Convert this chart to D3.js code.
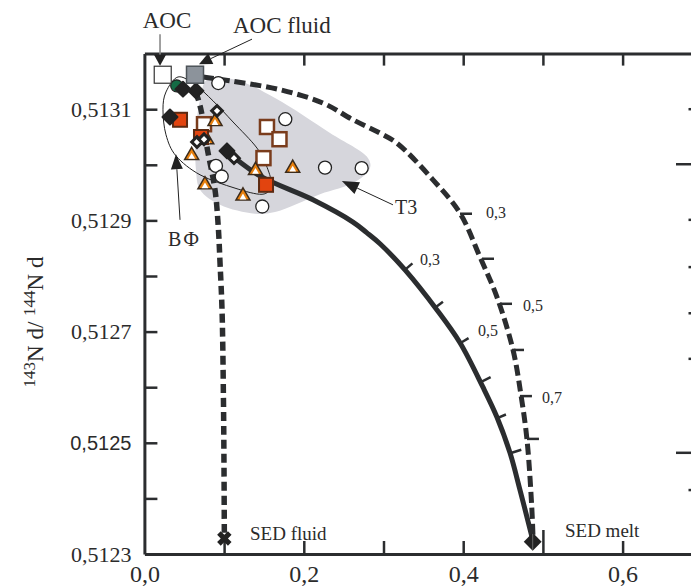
<!DOCTYPE html>
<html>
<head>
<meta charset="utf-8">
<script src="https://cdn.jsdelivr.net/npm/d3@7"></script>
<style>
  body { margin: 0; background: #fff; }
  svg { display: block; }
  .serif { font-family: "Liberation Serif", "Times New Roman", serif; fill: #2b2b2b; }
</style>
</head>
<body>
<div id="chart"></div>
<script>
// axis ticks
const xTickValues = [0, 0.1, 0.2, 0.3, 0.4, 0.5, 0.6];
const xLabelValues = [0, 0.2, 0.4, 0.6];
const yTickValues = [0.5123, 0.5124, 0.5125, 0.5126, 0.5127, 0.5128, 0.5129, 0.5130, 0.5131];
const yLabelValues = [0.5123, 0.5125, 0.5127, 0.5129, 0.5131];
const rightTickMajor = [0.513001, 0.512482];
const rightTickMinor = [0.5131, 0.512901, 0.512816, 0.512733, 0.512651, 0.512415];

// end-members
const aoc = [[0.023, 0.513162]];
const aocFluid = [[0.0635, 0.513162]];
const sedFluid = [[0.1003, 0.512328]];
const sedMelt = [[0.4872, 0.512322]];

// samples
const greenCircles = [[0.0405, 0.513142]];
const blackDiamonds = [[0.0484, 0.513136], [0.0647, 0.513133], [0.0321, 0.513086], [0.1036, 0.513025]];
const openDiamonds = [[0.0911, 0.513097], [0.066, 0.513041], [0.0748, 0.513046], [0.1124, 0.513012]];
const redSquares = [[0.0447, 0.513081], [0.1526, 0.512964], [0.071, 0.51305]];
const openSquares = [[0.0748, 0.513073], [0.1538, 0.513068], [0.1695, 0.513046], [0.1494, 0.513012]];
const triangles = [[0.0886, 0.513078], [0.0782, 0.513045], [0.0593, 0.513017], [0.1394, 0.51299],
                   [0.1861, 0.512994], [0.076, 0.512964], [0.1237, 0.512944]];
const whiteCircles = [[0.0927, 0.513147], [0.1768, 0.513082], [0.0898, 0.512998], [0.097, 0.512979],
                      [0.2266, 0.512995], [0.2726, 0.512994], [0.1479, 0.512925]];

// T3 field and ВФ outline
const t3Field = [[0.0698, 0.513117], [0.0785, 0.513153], [0.1137, 0.513153], [0.1639, 0.51312],
                 [0.2329, 0.513057], [0.2806, 0.513012], [0.283, 0.512994], [0.2642, 0.512969],
                 [0.2203, 0.512947], [0.1639, 0.512915], [0.1388, 0.512912], [0.0949, 0.512928],
                 [0.0698, 0.512955], [0.0647, 0.512991], [0.0647, 0.513063]];
const vfOutline = [[0.0422, 0.513158], [0.0635, 0.513144], [0.0861, 0.513115], [0.1112, 0.513077],
                   [0.1413, 0.51303], [0.1551, 0.512991], [0.1589, 0.512962], [0.1476, 0.512947],
                   [0.1137, 0.512958], [0.0698, 0.512982], [0.0397, 0.513016], [0.0271, 0.513054],
                   [0.0233, 0.513099], [0.0271, 0.513131]];

// mixing curves
const meltCurve = [[0.1011, 0.513027], [0.145, 0.51298], [0.2115, 0.512937], [0.2617, 0.512897],
                   [0.2789, 0.512878], [0.2956, 0.512858], [0.327, 0.512811], [0.3671, 0.512739],
                   [0.396, 0.51268], [0.4248, 0.5126], [0.4424, 0.512546], [0.4587, 0.512482],
                   [0.4713, 0.512415], [0.4863, 0.512331]];
const meltTicks = [[0.3268, 0.512811], [0.3646, 0.512743], [0.396, 0.512679], [0.4232, 0.51261],
                   [0.442, 0.512544], [0.4609, 0.512482]];
const aocMeltCurve = [[0.0734, 0.513158], [0.1074, 0.513151], [0.1701, 0.513135], [0.2241, 0.513111],
                      [0.2617, 0.513081], [0.2956, 0.513057], [0.3169, 0.513039], [0.3621, 0.512973],
                      [0.396, 0.512913], [0.4211, 0.512834], [0.4424, 0.512762], [0.4625, 0.512667],
                      [0.4725, 0.512586], [0.4801, 0.512505], [0.486, 0.512385], [0.4876, 0.512331]];
const aocMeltTicks = [[0.396, 0.512912], [0.4236, 0.512831], [0.4462, 0.51275], [0.4612, 0.512667],
                      [0.4712, 0.512584], [0.48, 0.512507]];
const fluidCurve = [[0.0647, 0.513131], [0.071, 0.513099], [0.0785, 0.513032], [0.0886, 0.512955],
                    [0.0927, 0.512888], [0.0949, 0.512823], [0.0974, 0.512739], [0.0992, 0.512577],
                    [0.0999, 0.512451], [0.1003, 0.512334]];

// text annotations
const curveLabels = [
  { text: "0,3", x: 0.3458, y: 0.51282 },
  { text: "0,5", x: 0.4186, y: 0.512692 },
  { text: "0,3", x: 0.4286, y: 0.512904 },
  { text: "0,5", x: 0.4749, y: 0.512737 },
  { text: "0,7", x: 0.4988, y: 0.512572 }
];

const width = 691, height = 587;
const ink = "#2b2d2f";

const x = d3.scaleLinear().domain([0, 0.7]).range([144.4, 702.3]);
const y = d3.scaleLinear().domain([0.5123, 0.5132]).range([554, 53.6]);

const xFmt = d => d3.format(".1f")(d).replace(".", ",");
const yFmt = d => d3.format(".4f")(d).replace(".", ",");

const svg = d3.select("#chart").append("svg")
  .attr("width", width)
  .attr("height", height);

const line = d3.line().x(d => x(d[0])).y(d => y(d[1]));

// T3 field
svg.append("path")
  .attr("d", line.curve(d3.curveCatmullRomClosed)(t3Field))
  .attr("fill", "#d6d6dc");

// ВФ outline
svg.append("path")
  .attr("d", line.curve(d3.curveCardinalClosed)(vfOutline))
  .attr("fill", "none")
  .attr("stroke", "#222")
  .attr("stroke-width", 1);

// dashed mixing curves
svg.append("path")
  .attr("d", line.curve(d3.curveCatmullRom)(aocMeltCurve))
  .attr("fill", "none")
  .attr("stroke", ink)
  .attr("stroke-width", 5)
  .attr("stroke-dasharray", "11,5");

svg.append("path")
  .attr("d", line.curve(d3.curveCatmullRom)(fluidCurve))
  .attr("fill", "none")
  .attr("stroke", ink)
  .attr("stroke-width", 5.5)
  .attr("stroke-dasharray", "9,5");

// solid curve (T3 - SED melt)
svg.append("path")
  .attr("d", line.curve(d3.curveCatmullRom)(meltCurve))
  .attr("fill", "none")
  .attr("stroke", ink)
  .attr("stroke-width", 5)
  .attr("stroke-linecap", "round");

// ticks on curves
const meltPx = meltCurve.map(d => [x(d[0]), y(d[1])]);
function normalAt(p) {
  let best = 0, bd = Infinity;
  meltPx.forEach((q, i) => {
    const dd = (q[0] - p[0]) ** 2 + (q[1] - p[1]) ** 2;
    if (dd < bd) { bd = dd; best = i; }
  });
  const a = meltPx[Math.max(best - 1, 0)], b = meltPx[Math.min(best + 1, meltPx.length - 1)];
  const tx = b[0] - a[0], ty = b[1] - a[1], len = Math.hypot(tx, ty);
  return [ty / len, -tx / len];
}
svg.selectAll(".melt-tick")
  .data(meltTicks)
  .enter()
  .append("line")
  .attr("x1", d => x(d[0]))
  .attr("y1", d => y(d[1]))
  .attr("x2", d => x(d[0]) + 10 * normalAt([x(d[0]), y(d[1])])[0])
  .attr("y2", d => y(d[1]) + 10 * normalAt([x(d[0]), y(d[1])])[1])
  .attr("stroke", ink)
  .attr("stroke-width", 2.5);

svg.selectAll(".aoc-tick")
  .data(aocMeltTicks)
  .enter()
  .append("line")
  .attr("x1", d => x(d[0]))
  .attr("y1", d => y(d[1]))
  .attr("x2", d => x(d[0]) + 12)
  .attr("y2", d => y(d[1]))
  .attr("stroke", ink)
  .attr("stroke-width", 2.5);

svg.selectAll(".curve-label")
  .data(curveLabels)
  .enter()
  .append("text")
  .attr("class", "serif")
  .attr("x", d => x(d.x))
  .attr("y", d => y(d.y))
  .style("font-size", "16px")
  .text(d => d.text);

// axes
const bottomAxis = svg.append("g")
  .attr("transform", `translate(0,${y(0.5123)})`)
  .call(d3.axisBottom(x).tickValues(xTickValues).tickSize(-13).tickSizeOuter(0).tickPadding(11)
    .tickFormat(d => xLabelValues.includes(d) ? xFmt(d) : ""));
bottomAxis.selectAll(".tick line").filter(d => d === 0).remove();
bottomAxis.selectAll(".tick line").filter(d => d === 0.5).attr("y2", -24);

const topAxis = svg.append("g")
  .attr("transform", `translate(0,${y(0.5132)})`)
  .call(d3.axisTop(x).tickValues(xTickValues.slice(1)).tickSize(-12).tickSizeOuter(0).tickFormat(""));

const leftAxis = svg.append("g")
  .attr("transform", `translate(${x(0)},0)`)
  .call(d3.axisLeft(y).tickValues(yTickValues).tickSize(-13).tickSizeOuter(0).tickPadding(13)
    .tickFormat(d => yLabelValues.includes(d) ? yFmt(d) : ""));
leftAxis.selectAll(".tick line").filter(d => d === 0.5123).remove();

[bottomAxis, topAxis, leftAxis].forEach(g => {
  g.select(".domain").attr("stroke", ink).attr("stroke-width", 3);
  g.selectAll(".tick line").attr("stroke", ink).attr("stroke-width", 2.5);
  g.selectAll(".tick text")
    .attr("fill", "#2b2b2b")
    .style("font-family", '"Liberation Serif", "Times New Roman", serif');
});
bottomAxis.selectAll(".tick text").style("font-size", "24px");
leftAxis.selectAll(".tick text").style("font-size", "22px");
leftAxis.selectAll(".tick text").filter(d => d === 0.5125)
  .style("font-family", '"Liberation Sans", Arial, sans-serif')
  .style("font-size", "20px");

// right-hand axis, cut by the frame
svg.selectAll(".r-major")
  .data(rightTickMajor)
  .enter()
  .append("line")
  .attr("x1", width - 15).attr("x2", width)
  .attr("y1", d => y(d)).attr("y2", d => y(d))
  .attr("stroke", ink).attr("stroke-width", 2.5);
svg.selectAll(".r-minor")
  .data(rightTickMinor)
  .enter()
  .append("line")
  .attr("x1", width - 2.5).attr("x2", width)
  .attr("y1", d => y(d)).attr("y2", d => y(d))
  .attr("stroke", ink).attr("stroke-width", 2.5);

// markers
const sym = (type, size) => d3.symbol().type(type).size(size)();

svg.selectAll(".wcirc")
  .data(whiteCircles)
  .enter()
  .append("circle")
  .attr("cx", d => x(d[0])).attr("cy", d => y(d[1])).attr("r", 6.5)
  .attr("fill", "#fff").attr("stroke", "#222").attr("stroke-width", 1.3);

svg.selectAll(".osq")
  .data(openSquares)
  .enter()
  .append("rect")
  .attr("x", d => x(d[0]) - 7).attr("y", d => y(d[1]) - 7)
  .attr("width", 14).attr("height", 14)
  .attr("fill", "#fff").attr("stroke", "#7a3c1c").attr("stroke-width", 2.5);

const tri = svg.selectAll(".tri")
  .data(triangles)
  .enter()
  .append("g")
  .attr("transform", d => `translate(${x(d[0])},${y(d[1])})`);
tri.append("path").attr("d", sym(d3.symbolTriangle, 85))
  .attr("fill", "#e8800e").attr("stroke", "#3b2b1b").attr("stroke-width", 1.5);
tri.append("path").attr("d", sym(d3.symbolTriangle, 20))
  .attr("transform", "translate(0,1.5)")
  .attr("fill", "#fff");

svg.selectAll(".rsq")
  .data(redSquares)
  .enter()
  .append("rect")
  .attr("x", d => x(d[0]) - 7).attr("y", d => y(d[1]) - 7)
  .attr("width", 14).attr("height", 14)
  .attr("fill", "#e2440f").attr("stroke", "#5c2a12").attr("stroke-width", 2);

svg.selectAll(".green")
  .data(greenCircles)
  .enter()
  .append("circle")
  .attr("cx", d => x(d[0])).attr("cy", d => y(d[1])).attr("r", 6)
  .attr("fill", "#146b45").attr("stroke", "#222").attr("stroke-width", 1.2);

svg.selectAll(".bdia")
  .data(blackDiamonds)
  .enter()
  .append("path")
  .attr("d", sym(d3.symbolSquare, 112))
  .attr("transform", d => `translate(${x(d[0])},${y(d[1])}) rotate(45)`)
  .attr("fill", "#222").attr("stroke", "#222").attr("stroke-width", 2).attr("stroke-linejoin", "round");

svg.selectAll(".odia")
  .data(openDiamonds)
  .enter()
  .append("path")
  .attr("d", sym(d3.symbolSquare, 56))
  .attr("transform", d => `translate(${x(d[0])},${y(d[1])}) rotate(45)`)
  .attr("fill", "#fff").attr("stroke", "#222").attr("stroke-width", 3);

svg.selectAll(".aoc")
  .data(aoc)
  .enter()
  .append("rect")
  .attr("x", d => x(d[0]) - 8.5).attr("y", d => y(d[1]) - 8.5)
  .attr("width", 17).attr("height", 17)
  .attr("fill", "#fff").attr("stroke", "#333").attr("stroke-width", 1.2);

svg.selectAll(".aocf")
  .data(aocFluid)
  .enter()
  .append("rect")
  .attr("x", d => x(d[0]) - 8.5).attr("y", d => y(d[1]) - 8.5)
  .attr("width", 17).attr("height", 17)
  .attr("fill", "#8c939b").attr("stroke", "#4d5358").attr("stroke-width", 1.5);

svg.selectAll(".sedf")
  .data(sedFluid)
  .enter()
  .append("path")
  .attr("d", sym(d3.symbolCross, 130))
  .attr("transform", d => `translate(${x(d[0])},${y(d[1])}) rotate(45)`)
  .attr("fill", "#222");

const melt = svg.selectAll(".sedm")
  .data(sedMelt)
  .enter()
  .append("g")
  .attr("transform", d => `translate(${x(d[0])},${y(d[1])})`);
melt.append("path")
  .attr("d", sym(d3.symbolSquare, 160))
  .attr("transform", "rotate(45)")
  .attr("fill", "#222");
melt.append("line")
  .attr("x1", 0).attr("x2", 0).attr("y1", -8).attr("y2", 8)
  .attr("stroke", "#777").attr("stroke-width", 0.8);

// arrows with labels
function arrow(from, to, headLen, headW, color) {
  const x1 = x(from[0]), y1 = y(from[1]), x2 = x(to[0]), y2 = y(to[1]);
  const len = Math.hypot(x2 - x1, y2 - y1);
  const ux = (x2 - x1) / len, uy = (y2 - y1) / len;
  const bx = x2 - ux * headLen, by = y2 - uy * headLen;
  svg.append("line")
    .attr("x1", x1).attr("y1", y1).attr("x2", bx).attr("y2", by)
    .attr("stroke", color).attr("stroke-width", color === "#222" ? 1 : 1.6);
  svg.append("path")
    .attr("d", `M${x2},${y2}L${bx - uy * headW / 2},${by + ux * headW / 2}L${bx + uy * headW / 2},${by - ux * headW / 2}Z`)
    .attr("fill", "#222");
}

arrow([0.0196, 0.513235], [0.0196, 0.513178], 11, 12, "#8a8a8a");
arrow([0.135, 0.513226], [0.0685, 0.513181], 13, 12, "#222");
arrow([0.3119, 0.512928], [0.2477, 0.512971], 17, 13, "#222");
arrow([0.0447, 0.512901], [0.0396, 0.513019], 15, 12, "#222");

const labels = [
  { text: "AOC", x: 0.0284, y: 0.513246, anchor: "middle", size: 23 },
  { text: "AOC fluid", x: 0.1111, y: 0.513237, anchor: "start", size: 23 },
  { text: "T3", x: 0.3144, y: 0.512912, anchor: "start", size: 20 },
  { text: "ВФ", x: 0.0296, y: 0.512854, anchor: "start", size: 20 },
  { text: "SED fluid", x: 0.1325, y: 0.512325, anchor: "start", size: 19 },
  { text: "SED melt", x: 0.5277, y: 0.512331, anchor: "start", size: 19 }
];
svg.selectAll(".lab")
  .data(labels)
  .enter()
  .append("text")
  .attr("class", "serif")
  .attr("x", d => x(d.x))
  .attr("y", d => y(d.y))
  .attr("text-anchor", d => d.anchor)
  .style("font-size", d => d.size + "px")
  .style("letter-spacing", d => d.text === "ВФ" ? "2px" : null)
  .text(d => d.text);

// y title 143Nd/144Nd
const title = svg.append("text")
  .attr("class", "serif")
  .attr("transform", "translate(43,322) rotate(-90)")
  .attr("text-anchor", "middle")
  .style("font-size", "23px");
title.append("tspan").attr("dy", -8).style("font-size", "17px").text("143");
title.append("tspan").attr("dy", 8).text("N d/ ");
title.append("tspan").attr("dy", -8).style("font-size", "17px").text("144");
title.append("tspan").attr("dy", 8).text("N d");
</script>
</body>
</html>
